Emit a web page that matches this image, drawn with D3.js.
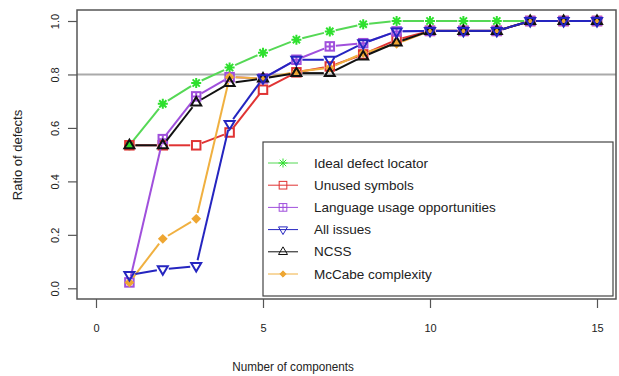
<!DOCTYPE html>
<html>
<head>
<meta charset="utf-8">
<script src="https://cdn.jsdelivr.net/npm/d3@7"></script>
<style>
  body { margin: 0; background: #fff; }
  text { font-family: "Liberation Sans", Arial, sans-serif; fill: #222; }
</style>
</head>
<body>
<div id="chart"></div>
<script>
// data
const components = [1, 2, 3, 4, 5, 6, 7, 8, 9, 10, 11, 12, 13, 14, 15]
const ideal    = [0.535, 0.69, 0.768, 0.826, 0.881, 0.93, 0.961, 0.988, 1.0, 1.0, 1.0, 1.0, 1.0, 1.0, 1.0]
const unused   = [0.535, 0.535, 0.535, 0.583, 0.743, 0.808, 0.83, 0.875, 0.93, 0.963, 0.963, 0.963, 1.0, 1.0, 1.0]
const language = [0.022, 0.558, 0.718, 0.79, 0.785, 0.855, 0.905, 0.917, 0.961, 0.963, 0.963, 0.963, 1.0, 1.0, 1.0]
const allIssues = [0.05, 0.071, 0.083, 0.615, 0.786, 0.855, 0.855, 0.917, 0.961, 0.963, 0.963, 0.963, 1.0, 1.0, 1.0]
const ncss     = [0.535, 0.535, 0.695, 0.768, 0.785, 0.805, 0.805, 0.867, 0.92, 0.963, 0.963, 0.963, 1.0, 1.0, 1.0]
const mccabe   = [0.022, 0.185, 0.26, 0.79, 0.785, 0.81, 0.825, 0.88, 0.915, 0.963, 0.963, 0.963, 1.0, 1.0, 1.0]

const xTicks = [0, 5, 10, 15]
const yTicks = [0.0, 0.2, 0.4, 0.6, 0.8, 1.0]

const series = [
  { name: "Ideal defect locator", values: ideal, color: "#2ee02e", line: "#55d855", shape: "star", order: 0 },
  { name: "Unused symbols", values: unused, color: "#e03333", line: "#e03333", shape: "square", order: 1 },
  { name: "Language usage opportunities", values: language, color: "#a050dc", line: "#a050dc", shape: "squareplus", order: 2 },
  { name: "All issues", values: allIssues, color: "#2525c0", line: "#2525c0", shape: "down", order: 5 },
  { name: "NCSS", values: ncss, color: "#111111", line: "#111111", shape: "up", order: 4 },
  { name: "McCabe complexity", values: mccabe, color: "#eea632", line: "#f0b040", shape: "diamond", order: 3 }
]

const WIDTH = 619
const HEIGHT = 376
const BOX = { left: 77, right: 616, top: 10, bottom: 299 }

const svg = d3.select("#chart")
  .append("svg")
  .attr("width", WIDTH)
  .attr("height", HEIGHT)

const X_SCALE = d3.scaleLinear().domain([0, 15]).range([96, 597])
const Y_SCALE = d3.scaleLinear().domain([0, 1]).range([288.3, 21])

// reference line at 0.8
svg.append("line")
  .attr("x1", BOX.left).attr("x2", BOX.right)
  .attr("y1", Y_SCALE(0.8)).attr("y2", Y_SCALE(0.8))
  .attr("stroke", "#aaaaaa")
  .attr("stroke-width", 2)

// draws a marker like R's pch symbols
function marker(g, shape, cx, cy, color, s, lw) {
  const m = g.append("g").attr("transform", "translate(" + cx + "," + cy + ")")
    .attr("fill", "none").attr("stroke", color).attr("stroke-width", lw)
  if (shape == "star") {
    const d = s * 0.72
    m.append("path").attr("d",
      "M" + (-s) + ",0L" + s + ",0M0," + (-s) + "L0," + s +
      "M" + (-d) + "," + (-d) + "L" + d + "," + d + "M" + (-d) + "," + d + "L" + d + "," + (-d))
  } else if (shape == "square") {
    m.append("rect").attr("x", -s * 0.85).attr("y", -s * 0.85).attr("width", s * 1.7).attr("height", s * 1.7)
  } else if (shape == "squareplus") {
    m.append("rect").attr("x", -s * 0.85).attr("y", -s * 0.85).attr("width", s * 1.7).attr("height", s * 1.7)
    m.append("path").attr("d", "M" + (-s * 0.85) + ",0L" + (s * 0.85) + ",0M0," + (-s * 0.85) + "L0," + (s * 0.85))
  } else if (shape == "down") {
    m.append("path").attr("d", "M" + (-s) + "," + (-s * 0.6) + "L" + s + "," + (-s * 0.6) + "L0," + (s * 1.1) + "Z")
  } else if (shape == "up") {
    m.append("path").attr("d", "M" + (-s) + "," + (s * 0.6) + "L" + s + "," + (s * 0.6) + "L0," + (-s * 1.1) + "Z")
  } else if (shape == "diamond") {
    const d = s * 0.7
    m.append("path").attr("d", "M0," + (-d) + "L" + d + ",0L0," + d + "L" + (-d) + ",0Z")
      .attr("fill", color)
  }
}

// lines with gaps round the points (type = "b")
const GAP = 6
series.slice().sort((a, b) => a.order - b.order).forEach(sr => {
  const g = svg.append("g")
  const pts = sr.values.map((v, i) => [X_SCALE(components[i]), Y_SCALE(v)])
  for (let i = 0; i < pts.length - 1; i++) {
    const dx = pts[i + 1][0] - pts[i][0]
    const dy = pts[i + 1][1] - pts[i][1]
    const len = Math.sqrt(dx * dx + dy * dy)
    if (len <= 2 * GAP) continue
    const ux = dx / len, uy = dy / len
    g.append("line")
      .attr("x1", pts[i][0] + ux * GAP).attr("y1", pts[i][1] + uy * GAP)
      .attr("x2", pts[i + 1][0] - ux * GAP).attr("y2", pts[i + 1][1] - uy * GAP)
      .attr("stroke", sr.line)
      .attr("stroke-width", 2)
  }
  pts.forEach(p => marker(g, sr.shape, p[0], p[1], sr.color, 5, 2))
})

// frame
svg.append("rect")
  .attr("x", BOX.left).attr("y", BOX.top)
  .attr("width", BOX.right - BOX.left).attr("height", BOX.bottom - BOX.top)
  .attr("fill", "none")
  .attr("stroke", "#555")
  .attr("stroke-width", 1.5)

// x axis
const xAxis = svg.append("g")
  .attr("transform", "translate(0," + BOX.bottom + ")")
  .call(d3.axisBottom(X_SCALE).tickValues(xTicks).tickSize(9).tickPadding(16))
xAxis.select(".domain").remove()
xAxis.selectAll("line").attr("stroke", "#555").attr("stroke-width", 1.2)
xAxis.selectAll("text").attr("font-size", "11px").attr("fill", "#222")
  .style("font-family", "Liberation Sans, Arial, sans-serif")

// y axis
const yAxis = svg.append("g")
  .attr("transform", "translate(" + BOX.left + ",0)")
  .call(d3.axisLeft(Y_SCALE).tickValues(yTicks).tickSize(9).tickFormat(d3.format(".1f")))
yAxis.select(".domain").remove()
yAxis.selectAll("line").attr("stroke", "#555").attr("stroke-width", 1.2)
yAxis.selectAll("text").remove()
yAxis.selectAll(".tick").append("text")
  .attr("transform", "translate(-22,0) rotate(-90)")
  .attr("text-anchor", "middle")
  .attr("dominant-baseline", "central")
  .attr("font-size", "11px")
  .text(d => d3.format(".1f")(d))

// axis titles
svg.append("text")
  .attr("transform", "translate(293,371) scale(0.9,1)")
  .attr("text-anchor", "middle")
  .attr("font-size", "13px")
  .text("Number of components")

svg.append("text")
  .attr("transform", "translate(22,155) rotate(-90)")
  .attr("text-anchor", "middle")
  .attr("font-size", "13px")
  .text("Ratio of defects")

// legend
const legend = svg.append("g")
legend.append("rect")
  .attr("x", 263).attr("y", 142)
  .attr("width", 350).attr("height", 154)
  .attr("fill", "#fff")
  .attr("stroke", "#444")
  .attr("stroke-width", 1.2)

const LEGEND_Y = d3.scaleLinear().domain([0, 5]).range([163, 274])
series.forEach((sr, i) => {
  const y = LEGEND_Y(i)
  legend.append("line")
    .attr("x1", 268).attr("x2", 298)
    .attr("y1", y).attr("y2", y)
    .attr("stroke", sr.line)
    .attr("stroke-width", 1)
  marker(legend, sr.shape, 283, y, sr.color, 4.5, 1)
  legend.append("text")
    .attr("x", 314).attr("y", y)
    .attr("dominant-baseline", "central")
    .attr("font-size", "13.5px")
    .text(sr.name)
})
</script>
</body>
</html>
